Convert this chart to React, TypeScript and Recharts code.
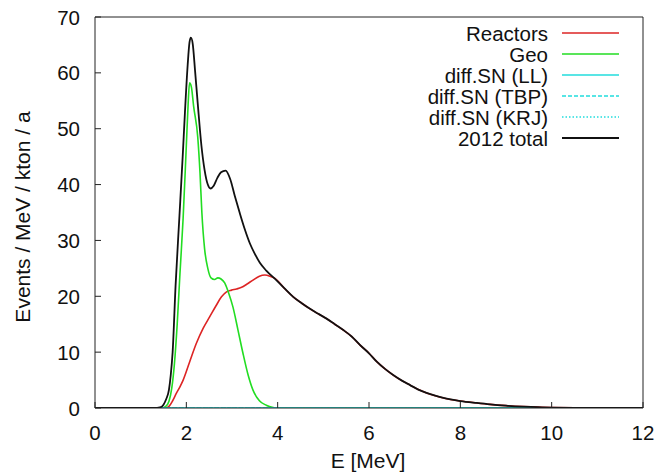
import React from 'react';
import { LineChart, Line, XAxis, YAxis } from 'recharts';

const FONT = '"Liberation Sans", Arial, sans-serif';

const xTicks = [0, 2, 4, 6, 8, 10, 12];
const yTicks = [0, 10, 20, 30, 40, 50, 60, 70];

// E [MeV] / value pairs
const totalE = [0, 1.0, 1.3, 1.42, 1.5, 1.56, 1.62, 1.66, 1.70, 1.765, 1.85, 1.92, 1.97, 2.03, 2.07, 2.10, 2.14, 2.19, 2.25, 2.33, 2.40, 2.47, 2.53, 2.60, 2.68, 2.76, 2.86, 2.96, 3.06, 3.17, 3.28, 3.39, 3.50, 3.61, 3.75, 3.97, 4.15, 4.34, 4.52, 4.70, 4.88, 5.07, 5.25, 5.43, 5.62, 5.80, 6.0, 6.17, 6.35, 6.53, 6.72, 6.90, 7.08, 7.26, 7.45, 7.63, 8.0, 8.36, 8.65, 9.0, 9.38, 9.7, 10.0, 10.5, 11, 12];
const totalV = [0, 0, 0, 0.1, 0.6, 1.6, 3.3, 6.0, 10, 22, 34.5, 45, 53, 61.5, 65.5, 66.3, 65.2, 60.5, 54.5, 47, 42.6, 40, 39.3, 39.8, 41.2, 42.2, 42.5, 41, 38, 34.9, 32, 29.5, 27.6, 26.0, 24.6, 22.9, 21.4, 19.9, 18.8, 17.8, 16.9, 16.0, 15.0, 14.0, 12.8, 11.3, 9.8, 8.3, 7.0, 5.9, 4.9, 4.1, 3.3, 2.7, 2.2, 1.8, 1.25, 0.9, 0.65, 0.42, 0.25, 0.15, 0.08, 0.02, 0, 0];

const geoE = [0, 1.45, 1.55, 1.62, 1.68, 1.74, 1.80, 1.86, 1.93, 2.00, 2.04, 2.07, 2.11, 2.16, 2.25, 2.30, 2.34, 2.40, 2.47, 2.54, 2.62, 2.69, 2.76, 2.84, 2.93, 3.02, 3.13, 3.24, 3.35, 3.46, 3.60, 3.75, 3.90, 4.0, 12];
const geoV = [0, 0, 0.3, 1.2, 3.5, 8, 15, 24, 34, 47, 54.5, 58.2, 57.5, 54, 48.5, 42, 35, 28.5, 25, 23.3, 23, 23.3, 23.1, 22.4, 20.5, 18.1, 14, 9.8, 6.0, 3.2, 1.3, 0.5, 0.1, 0, 0];

const reactorE = [0, 1.55, 1.62, 1.70, 1.78, 1.86, 1.93, 2.07, 2.22, 2.37, 2.51, 2.65, 2.77, 2.88, 2.99, 3.10, 3.21, 3.33, 3.46, 3.60, 3.72, 3.83, 3.94, 4.15, 4.34, 4.52, 4.70, 4.88, 5.07, 5.25, 5.43, 5.62, 5.80, 6.0, 6.17, 6.35, 6.53, 6.72, 6.90, 7.08, 7.26, 7.45, 7.63, 8.0, 8.36, 8.65, 9.0, 9.38, 9.7, 10.0, 10.5, 11, 12];
const reactorV = [0, 0, 0.3, 1.3, 2.6, 3.8, 5.0, 8.2, 11.6, 14.3, 16.3, 18.3, 19.9, 20.8, 21.1, 21.3, 21.6, 22.2, 22.9, 23.6, 23.8, 23.6, 23.2, 21.4, 19.9, 18.8, 17.8, 16.9, 16.0, 15.0, 14.0, 12.8, 11.3, 9.8, 8.3, 7.0, 5.9, 4.9, 4.1, 3.3, 2.7, 2.2, 1.8, 1.25, 0.9, 0.65, 0.42, 0.25, 0.15, 0.08, 0.02, 0, 0];

// the diffuse SN curves are flat on zero at this scale
const snE = [0, 12];
const snLL = [0, 0];
const snTBP = [0, 0];
const snKRJ = [0, 0];

const toPoints = (es: number[], vs: number[]) => es.map((e, i) => ({ e, v: vs[i] }));

const series = [
  { name: 'Reactors', color: '#dd2424', dash: undefined, width: 1.6, data: toPoints(reactorE, reactorV) },
  { name: 'Geo', color: '#22dd22', dash: undefined, width: 1.6, data: toPoints(geoE, geoV) },
  { name: 'diff.SN (LL)', color: '#22dddd', dash: undefined, width: 1.6, data: toPoints(snE, snLL) },
  { name: 'diff.SN (TBP)', color: '#22dddd', dash: '4 2', width: 1.6, data: toPoints(snE, snTBP) },
  { name: 'diff.SN (KRJ)', color: '#22dddd', dash: '1.5 2', width: 1.6, data: toPoints(snE, snKRJ) },
  { name: '2012 total', color: '#111111', dash: undefined, width: 1.8, data: toPoints(totalE, totalV) },
];

const BottomTick = ({ x, y, payload }: any) => (
  <g>
    <line x1={x} x2={x} y1={y} y2={y - 6} stroke="#222" />
    <text x={x} y={y + 32} textAnchor="middle" fill="#111" fontSize={20.5} fontFamily={FONT}>
      {payload.value}
    </text>
  </g>
);

const TopTick = ({ x, y }: any) => <line x1={x} x2={x} y1={y} y2={y + 6} stroke="#222" />;

const LeftTick = ({ x, y, payload }: any) => (
  <g>
    <line x1={x} x2={x + 6} y1={y} y2={y} stroke="#222" />
    <text x={x - 15} y={y + 7.5} textAnchor="end" fill="#111" fontSize={20.5} fontFamily={FONT}>
      {payload.value}
    </text>
  </g>
);

const RightTick = ({ x, y }: any) => <line x1={x} x2={x - 6} y1={y} y2={y} stroke="#222" />;

const Overlay = () => (
  <svg width={661} height={475} style={{ position: 'absolute', left: 0, top: 0, pointerEvents: 'none' }}>
    {series.map((s, i) => {
      const cy = 33 + i * 21;
      return (
        <g key={s.name}>
          <text x={548} y={cy + 7.5} textAnchor="end" fill="#111" fontSize={20.5} fontFamily={FONT}>
            {s.name}
          </text>
          <line x1={562} x2={619} y1={cy} y2={cy} stroke={s.color} strokeWidth={s.width} strokeDasharray={s.dash} />
        </g>
      );
    })}
    <text x={368} y={468} textAnchor="middle" fill="#111" fontSize={21} fontFamily={FONT}>
      E [MeV]
    </text>
    <text x={22} y={224.5} transform="rotate(-90, 22, 217)" textAnchor="middle" fill="#111" fontSize={21} fontFamily={FONT}>
      Events / MeV / kton / a
    </text>
  </svg>
);

export default function App() {
  return (
    <div style={{ position: 'absolute', left: 0, top: 0, width: 661, height: 475, background: '#fff' }}>
      <LineChart width={661} height={475} margin={{ top: 16, right: 17, bottom: 27, left: 35 }}>
        <XAxis
          xAxisId="main"
          type="number"
          dataKey="e"
          domain={[0, 12]}
          ticks={xTicks}
          interval={0}
          height={40}
          tickSize={0}
          tickMargin={0}
          tickLine={false}
          axisLine={{ stroke: '#222' }}
          tick={<BottomTick />}
          allowDataOverflow
        />
        <XAxis
          xAxisId="top"
          orientation="top"
          type="number"
          dataKey="e"
          domain={[0, 12]}
          ticks={xTicks}
          interval={0}
          height={1}
          tickSize={0}
          tickMargin={0}
          tickLine={false}
          axisLine={{ stroke: '#222' }}
          tick={<TopTick />}
        />
        <YAxis
          yAxisId="main"
          type="number"
          domain={[0, 70]}
          ticks={yTicks}
          interval={0}
          width={60}
          tickSize={0}
          tickMargin={0}
          tickLine={false}
          axisLine={{ stroke: '#222' }}
          tick={<LeftTick />}
          allowDataOverflow
        />
        <YAxis
          yAxisId="right"
          orientation="right"
          type="number"
          domain={[0, 70]}
          ticks={yTicks}
          interval={0}
          width={1}
          tickSize={0}
          tickMargin={0}
          tickLine={false}
          axisLine={{ stroke: '#222' }}
          tick={<RightTick />}
        />
        {series.map((s) => (
          <Line
            key={s.name}
            xAxisId="main"
            yAxisId="main"
            data={s.data}
            dataKey="v"
            name={s.name}
            type="monotone"
            stroke={s.color}
            strokeWidth={s.width}
            strokeDasharray={s.dash}
            dot={false}
            activeDot={false}
            isAnimationActive={false}
          />
        ))}
      </LineChart>
      <Overlay />
    </div>
  );
}
